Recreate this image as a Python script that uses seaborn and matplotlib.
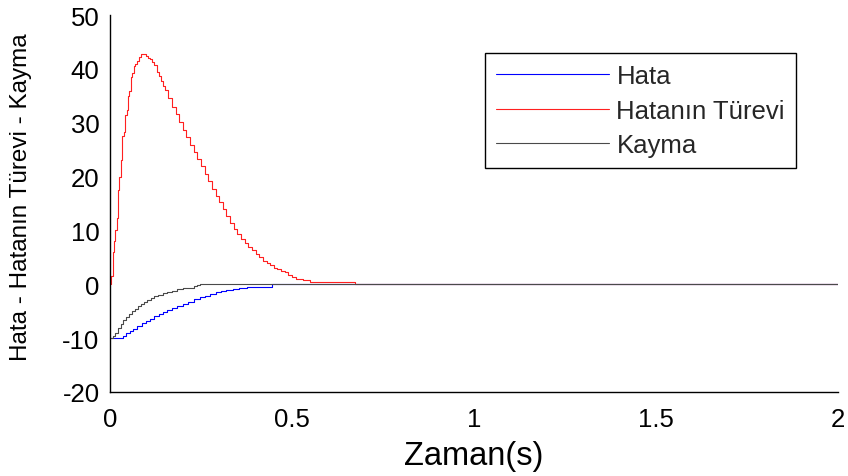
import numpy as np
import pandas as pd
import matplotlib
matplotlib.use("Agg")
import matplotlib.pyplot as plt
import seaborn as sns

# Error, error derivative and sliding variable of the controller over time
t_hata = [0.0, 0.027, 0.035, 0.045, 0.055, 0.064, 0.075, 0.088, 0.100, 0.110,
          0.122, 0.134, 0.145, 0.156, 0.170, 0.185, 0.200, 0.215, 0.230, 0.247,
          0.262, 0.276, 0.290, 0.305, 0.320, 0.338, 0.355, 0.375, 0.445, 2.0]
hata = [-10.0, -10.0, -9.6, -9.1, -8.7, -8.25, -7.8, -7.2, -6.8, -6.4,
        -5.9, -5.5, -5.1, -4.8, -4.4, -4.0, -3.6, -3.2, -2.8, -2.4,
        -2.1, -1.8, -1.5, -1.3, -1.1, -0.9, -0.7, -0.55, 0.0, 0.0]

t_turev = [0.0, 0.003, 0.007, 0.011, 0.014, 0.018, 0.022, 0.026, 0.029, 0.034,
           0.038, 0.042, 0.046, 0.050, 0.053, 0.057, 0.061, 0.065, 0.069, 0.074,
           0.080, 0.086, 0.092, 0.098, 0.104, 0.110, 0.116, 0.122, 0.128, 0.134,
           0.140, 0.146, 0.152, 0.16, 0.17, 0.18, 0.19, 0.20, 0.21, 0.22,
           0.23, 0.24, 0.25, 0.26, 0.27, 0.28, 0.29, 0.30, 0.31, 0.32,
           0.33, 0.34, 0.35, 0.36, 0.37, 0.38, 0.39, 0.40, 0.41, 0.42,
           0.43, 0.44, 0.45, 0.46, 0.47, 0.48, 0.49, 0.50, 0.51, 0.53,
           0.55, 0.672, 2.0]
turev = [0.0, 1.5, 6.0, 8.0, 10.0, 12.4, 17.5, 20.0, 23.0, 27.5,
         28.3, 31.5, 32.4, 35.0, 35.8, 38.5, 39.2, 40.5, 40.9, 41.5,
         42.2, 42.7, 42.7, 42.4, 42.0, 41.8, 41.3, 40.8, 39.5, 38.6,
         37.8, 36.9, 36.0, 34.5, 33.0, 31.6, 30.1, 28.7, 27.3, 25.9,
         24.5, 23.2, 21.9, 20.5, 19.1, 17.7, 16.4, 15.2, 13.9, 12.7,
         11.4, 10.3, 9.3, 8.5, 7.7, 7.0, 6.3, 5.7, 5.0, 4.4,
         3.9, 3.5, 3.1, 2.8, 2.5, 2.2, 1.8, 1.3, 1.0, 0.8,
         0.5, 0.0, 0.0]

t_kayma = [0.0, 0.008, 0.015, 0.022, 0.030, 0.037, 0.045, 0.052, 0.060, 0.068,
           0.076, 0.085, 0.094, 0.103, 0.112, 0.122, 0.133, 0.145, 0.156, 0.170,
           0.185, 0.200, 0.215, 0.230, 0.240, 0.247, 2.0]
kayma = [-10.0, -9.6, -9.0, -8.2, -7.4, -6.7, -6.0, -5.5, -5.0, -4.5,
         -4.0, -3.6, -3.2, -2.9, -2.6, -2.2, -1.9, -1.6, -1.4, -1.2,
         -0.9, -0.75, -0.6, -0.4, -0.2, 0.0, 0.0]

series_names = ["Hata", "Hatanın Türevi", "Kayma"]
series_colors = ["#0000ff", "#ff2020", "#4a4a4a"]
x_ticks = [0, 0.5, 1, 1.5, 2]
x_tick_labels = ["0", "0.5", "1", "1.5", "2"]
y_ticks = [-20, -10, 0, 10, 20, 30, 40, 50]
y_tick_labels = ["-20", "-10", "0", "10", "20", "30", "40", "50"]

frames = []
for name, tt, vv in zip(series_names, [t_hata, t_turev, t_kayma], [hata, turev, kayma]):
    frames.append(pd.DataFrame({"Zaman": tt, "Deger": vv, "Sinyal": name}))
df = pd.concat(frames, ignore_index=True)

sns.set_theme(style="white")
plt.rcParams["font.family"] = ["Liberation Sans", "DejaVu Sans"]

fig = plt.figure(figsize=(8.48, 4.77), dpi=100)
ax = fig.add_axes([110 / 848, (477 - 393) / 477, 728 / 848, 377 / 477])

sns.lineplot(data=df, x="Zaman", y="Deger", hue="Sinyal", hue_order=series_names,
             palette=dict(zip(series_names, series_colors)), estimator=None,
             sort=False, drawstyle="steps-post", linewidth=0.8, ax=ax)

ax.set_xlim(0, 2)
ax.set_ylim(-20, 50)
ax.set_xticks(x_ticks)
ax.set_xticklabels(x_tick_labels)
ax.set_yticks(y_ticks)
ax.set_yticklabels(y_tick_labels)

for side in ["top", "right"]:
    ax.spines[side].set_visible(False)
for side in ["left", "bottom"]:
    ax.spines[side].set_color("black")
    ax.spines[side].set_linewidth(1.0)

ax.tick_params(axis="both", direction="in", length=7, width=1.2, color="black",
               labelsize=18.5, labelcolor="black")
ax.tick_params(axis="x", pad=11)
ax.tick_params(axis="y", pad=7.5)
ax.set_xlabel("Zaman(s)", fontsize=23.5, color="black", labelpad=6)
ax.set_ylabel("Hata - Hatanın Türevi - Kayma", fontsize=17.5, color="black")
ax.yaxis.set_label_coords(-0.107, 0.52)

handles, labels = ax.get_legend_handles_labels()
leg = ax.legend(handles, labels, loc="upper left", bbox_to_anchor=(0.515, 0.899),
                borderaxespad=0, fontsize=18.5, frameon=True, fancybox=False,
                handlelength=4.4, handletextpad=0.3, labelspacing=0.42,
                borderpad=0.42)
leg.get_frame().set_edgecolor("black")
leg.get_frame().set_linewidth(1.0)
leg.get_frame().set_alpha(1)

fig.savefig("out.png", dpi=100)
